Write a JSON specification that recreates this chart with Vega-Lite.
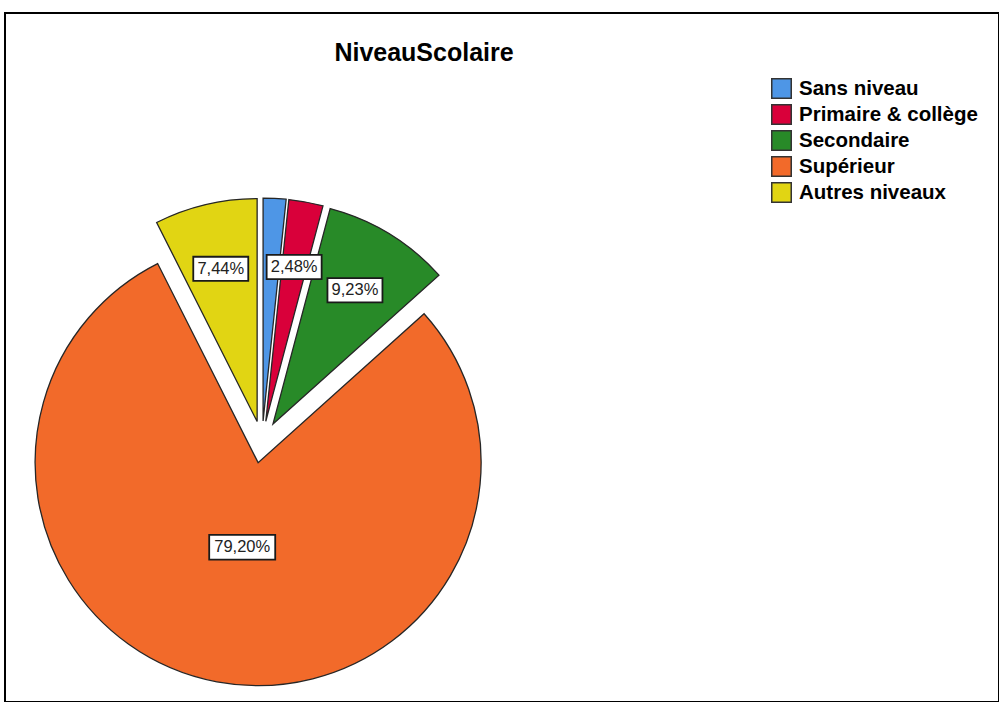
{
  "$schema": "https://vega.github.io/schema/vega-lite/v6.json",
  "width": 994,
  "height": 689,
  "autosize": {"type": "none"},
  "padding": {"left": 5, "top": 13, "right": 0, "bottom": 0},
  "background": "white",
  "config": {"view": {"stroke": "black", "strokeWidth": 2}, "font": "Liberation Sans"},
  "title": {"text": "NiveauScolaire", "fontSize": 25, "fontWeight": "bold", "font": "Liberation Sans", "color": "black", "anchor": "middle", "dx": -78, "dy": 57},
  "data": {"values": [
    {"niveau": "Sans niveau", "pct": 1.65, "ordre": 1},
    {"niveau": "Primaire & collège", "pct": 2.48, "ordre": 2},
    {"niveau": "Secondaire", "pct": 9.23, "ordre": 3},
    {"niveau": "Supérieur", "pct": 79.20, "ordre": 4},
    {"niveau": "Autres niveaux", "pct": 7.44, "ordre": 5}
  ]},
  "transform": [
    {"window": [{"op": "sum", "field": "pct", "as": "cum"}], "sort": [{"field": "ordre", "order": "ascending"}], "frame": [null, 0]},
    {"calculate": "datum.cum - datum.pct", "as": "start"},
    {"calculate": "(datum.cum - datum.pct / 2) / 100 * 2 * PI", "as": "mid"},
    {"calculate": "21 * sin(datum.mid)", "as": "ax"},
    {"calculate": "21 * cos(datum.mid)", "as": "ay"},
    {"calculate": "datum.pct > 50 ? 86 : 157", "as": "lr"},
    {"calculate": "datum.ax + datum.lr * sin(datum.mid)", "as": "lx"},
    {"calculate": "datum.ay + datum.lr * cos(datum.mid)", "as": "ly"},
    {"calculate": "replace(format(datum.pct, '.2f'), '.', ',') + '%'", "as": "label"}
  ],
  "layer": [
    {
      "mark": {"type": "arc", "outerRadius": 223, "stroke": "#262626", "strokeWidth": 1.3, "opacity": 1},
      "encoding": {
        "theta": {"field": "start", "type": "quantitative", "stack": null, "scale": {"domain": [0, 100]}},
        "theta2": {"field": "cum"},
        "x": {"field": "ax", "type": "quantitative", "stack": null, "scale": {"domain": [-257, 737], "nice": false, "zero": false}, "axis": null},
        "y": {"field": "ay", "type": "quantitative", "stack": null, "scale": {"domain": [-260, 429], "nice": false, "zero": false}, "axis": null},
        "color": {
          "field": "niveau",
          "type": "nominal",
          "scale": {
            "domain": ["Sans niveau", "Primaire & collège", "Secondaire", "Supérieur", "Autres niveaux"],
            "range": ["#4E96E6", "#D9003A", "#288A28", "#F26A2A", "#E1D513"]
          },
          "legend": {
            "title": null,
            "orient": "none",
            "legendX": 766,
            "legendY": 65,
            "padding": 0,
            "symbolType": "square",
            "symbolSize": 380,
            "symbolStrokeColor": "#333333",
            "symbolStrokeWidth": 1.5,
            "symbolOpacity": 1,
            "labelFont": "Liberation Sans",
            "labelFontSize": 20.5,
            "labelFontWeight": "bold",
            "labelColor": "black",
            "labelOffset": 7,
            "rowPadding": -1,
            "labelLimit": 400
          }
        }
      }
    },
    {
      "transform": [{"filter": "datum.pct >= 2"}],
      "mark": {"type": "point", "filled": false, "fill": "white", "fillOpacity": 1, "stroke": "#1a1a1a", "strokeWidth": 1.8, "opacity": 1},
      "encoding": {
        "x": {"field": "lx", "type": "quantitative", "stack": null},
        "y": {"field": "ly", "type": "quantitative", "stack": null},
        "shape": {
          "condition": {"test": "length(datum.label) > 5", "value": "M-1,-0.375L1,-0.375L1,0.375L-1,0.375Z"},
          "value": "M-1,-0.44L1,-0.44L1,0.44L-1,0.44Z"
        },
        "size": {
          "condition": {"test": "length(datum.label) > 5", "value": 4356},
          "value": 3025
        }
      }
    },
    {
      "transform": [{"filter": "datum.pct >= 2"}],
      "mark": {"type": "text", "font": "Liberation Sans", "fontSize": 16.5, "color": "#222222", "align": "center", "baseline": "middle"},
      "encoding": {
        "x": {"field": "lx", "type": "quantitative", "stack": null},
        "y": {"field": "ly", "type": "quantitative", "stack": null},
        "text": {"field": "label", "type": "nominal"}
      }
    }
  ]
}
